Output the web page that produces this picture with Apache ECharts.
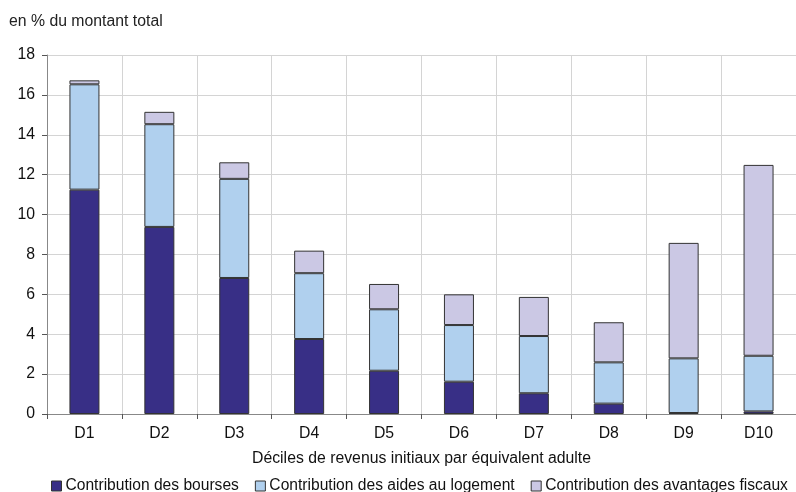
<!DOCTYPE html>
<html><head><meta charset="utf-8">
<script src="https://cdn.jsdelivr.net/npm/echarts@6/dist/echarts.min.js"></script>
<style>html,body{margin:0;padding:0;background:#fff}#c{width:796px;height:492px}</style>
</head><body><div id="c"></div>
<script>
const categories = ['D1','D2','D3','D4','D5','D6','D7','D8','D9','D10'];
const bourses = [11.25, 9.38, 6.82, 3.76, 2.17, 1.62, 1.04, 0.52, 0.05, 0.13];
const aides = [5.28, 5.15, 4.97, 3.30, 3.08, 2.84, 2.87, 2.07, 2.74, 2.79];
const fiscaux = [0.20, 0.62, 0.83, 1.13, 1.27, 1.54, 1.96, 2.01, 5.79, 9.57];
const yTicks = [0, 2, 4, 6, 8, 10, 12, 14, 16, 18];
const seriesNames = ['Contribution des bourses', 'Contribution des aides au logement', 'Contribution des avantages fiscaux'];
const font = 'Liberation Sans, Arial, sans-serif';
const fs = 15.8;
const chart = echarts.init(document.getElementById('c'));
const mk = (name, data, color) => ({
  name, type: 'bar', stack: 't', data, barWidth: 30,
  itemStyle: { color, borderColor: '#333', borderWidth: 1 }
});
chart.setOption({
  animation: false,
  textStyle: { fontFamily: font },
  title: { text: 'en % du montant total', left: 9, top: 14, padding: 0,
    textStyle: { fontSize: fs, fontWeight: 'normal', color: '#222', fontFamily: font } },
  legend: {
    top: 478, left: 51, width: 790, padding: 0, itemWidth: 10, itemHeight: 10, itemGap: 16,
    icon: 'rect',
    textStyle: { fontSize: 15.6, color: '#111', fontFamily: font, padding: [0, 0, 0, -1] },
    data: seriesNames.map((n, i) => ({ name: n, itemStyle: { borderColor: '#333', borderWidth: 1 } }))
  },
  grid: { left: 47, right: 0, top: 55, bottom: 78, containLabel: false },
  xAxis: {
    type: 'category', data: categories,
    name: 'Déciles de revenus initiaux par équivalent adulte',
    nameLocation: 'middle', nameGap: 37,
    nameTextStyle: { fontSize: fs, color: '#111', fontFamily: font },
    axisLine: { lineStyle: { color: '#888', width: 1 } },
    axisTick: { show: true, length: 5, lineStyle: { color: '#555' } },
    splitLine: { show: true, lineStyle: { color: '#d4d4d4', width: 1 } },
    axisLabel: { fontSize: fs, color: '#111', margin: 12, fontFamily: font }
  },
  yAxis: {
    type: 'value', min: yTicks[0], max: yTicks[yTicks.length - 1], interval: 2,
    axisLine: { show: true, lineStyle: { color: '#888', width: 1 } },
    axisTick: { show: true, length: 5, lineStyle: { color: '#555' } },
    splitLine: { lineStyle: { color: '#d4d4d4', width: 1 } },
    axisLabel: { fontSize: fs, color: '#111', margin: 12, fontFamily: font }
  },
  series: [
    mk(seriesNames[0], bourses, '#382f86'),
    mk(seriesNames[1], aides, '#b0d0ee'),
    mk(seriesNames[2], fiscaux, '#cbc8e4')
  ]
});
</script></body></html>
